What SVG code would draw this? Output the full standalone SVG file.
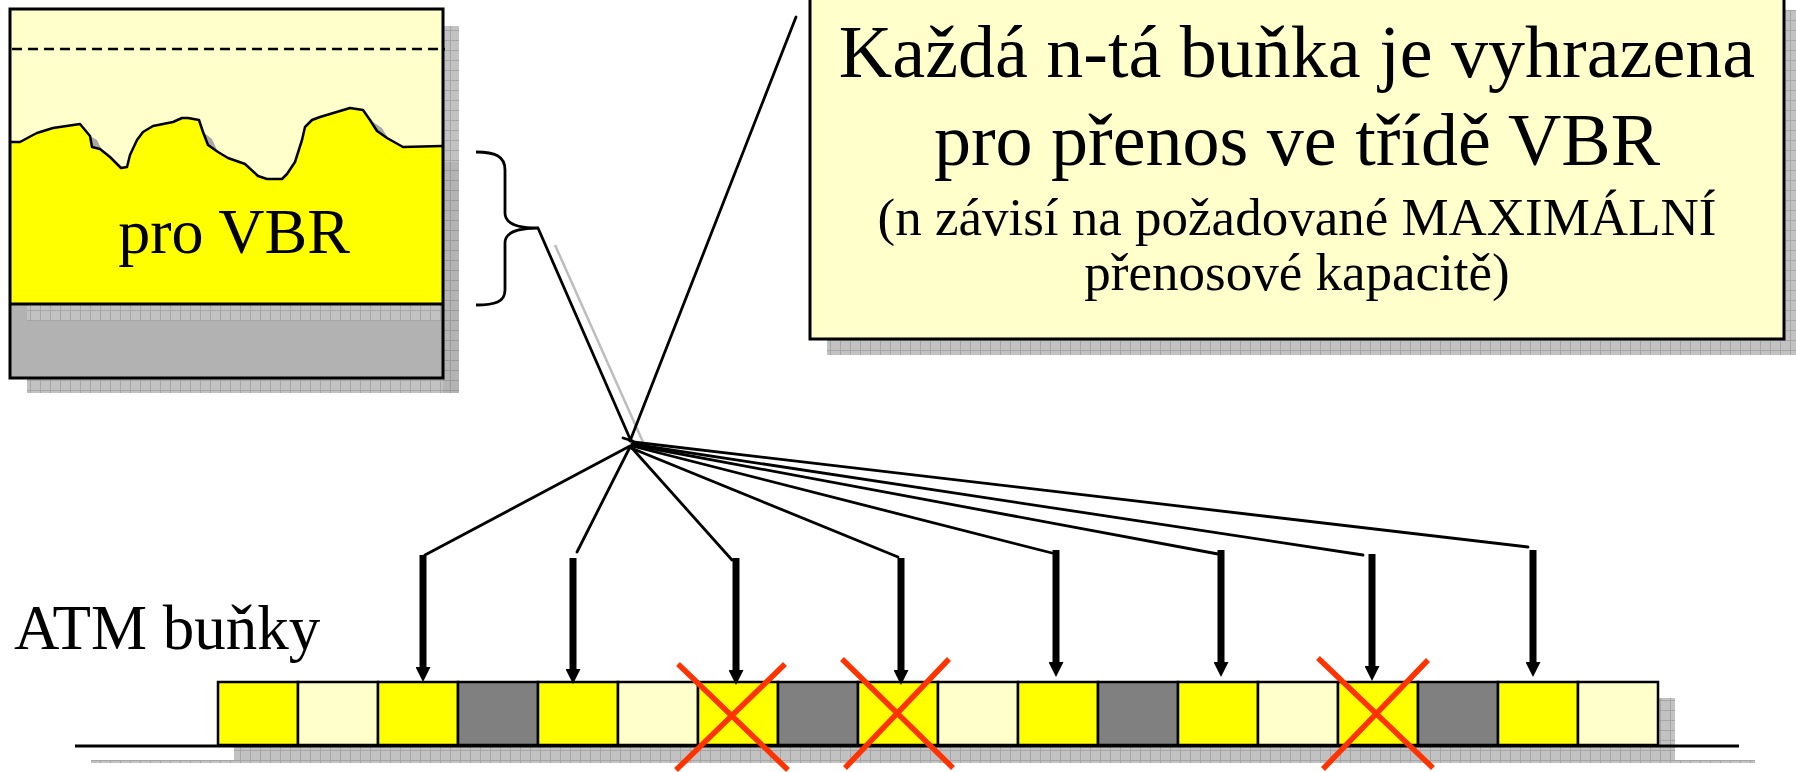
<svg xmlns="http://www.w3.org/2000/svg" width="1796" height="772" viewBox="0 0 1796 772">
<style>
.txt{font-family:"Liberation Serif","Times New Roman",serif;fill:#000}
.thin{fill:none;stroke:#000;stroke-width:2.8;stroke-linecap:round;stroke-linejoin:round}
.stem{fill:none;stroke:#000;stroke-width:7;marker-end:url(#ah)}
.cell{stroke:#000;stroke-width:2.5}
.y{fill:#FFFF00}.ly{fill:#FFFFCC}.g{fill:#808080}
.sh{fill:url(#shp)}
.x{stroke:#FF3300;stroke-width:5.5;stroke-linecap:butt}
</style>
<defs>
<pattern id="shp" width="10" height="10" patternUnits="userSpaceOnUse">
<rect width="10" height="10" fill="#c2c2c2"/>
<path d="M0,0.5H10M0.5,0V10" stroke="#a6a6a6" stroke-width="1"/>
</pattern>
<marker id="ah" viewBox="0 0 15 15" refX="0" refY="7.5" markerWidth="15" markerHeight="15" markerUnits="userSpaceOnUse" orient="auto">
<path d="M0,0L15,7.5L0,15Z" fill="#000"/>
</marker>
</defs>
<rect width="1796" height="772" fill="#fff"/>

<g id="vbr-box">
<rect class="sh" x="27" y="26" width="432" height="367"/>
<rect x="443" y="162" width="16" height="231" fill="#000" opacity="0.07"/>
<rect x="10" y="9" width="433" height="295" fill="#FFFFCC"/>
<rect x="10" y="304" width="433" height="74" fill="#B2B2B2"/>
<rect class="sh" x="27" y="305" width="416" height="16"/>
<line x1="12" y1="49" x2="445" y2="49" stroke="#000" stroke-width="2.5" stroke-dasharray="10,6"/>
<path d="M90,136L97,140L101,148L92,147Z M203,132L212,139L217,150L208,145Z M370,120L382,128L388,138L377,131Z" fill="#a8a8a8"/>
<path d="M10,142L20,142L33,135L37,133L53,128L80,124L90,136L92,147L100,149L110,157L121,168L127,167L130,155L137,140L143,132L153,126L173,122L182,118L188,118L199,120L203,132L208,145L218,152L228,158L245,164L258,176L267,179L282,179L287,174L295,162L302,140L305,127L312,120L320,117L350,108L363,110L370,120L377,131L387,138L403,147L442,146L442,304L10,304Z" fill="#FFFF00"/>
<path d="M10,142L20,142L33,135L37,133L53,128L80,124L90,136L92,147L100,149L110,157L121,168L127,167L130,155L137,140L143,132L153,126L173,122L182,118L188,118L199,120L203,132L208,145L218,152L228,158L245,164L258,176L267,179L282,179L287,174L295,162L302,140L305,127L312,120L320,117L350,108L363,110L370,120L377,131L387,138L403,147L442,146" fill="none" stroke="#000" stroke-width="2.5" stroke-linejoin="round"/>
<rect x="10" y="9" width="433" height="369" fill="none" stroke="#000" stroke-width="3"/>
<line x1="10" y1="304" x2="443" y2="304" stroke="#000" stroke-width="3"/>
<text class="txt" x="234" y="253" font-size="64" text-anchor="middle">pro VBR</text>
</g>

<g id="brace">
<path d="M476,152C495,152 505,156 505,170L505,213C505,222 515,228 538,228C515,228 505,234 505,243L505,290C505,302 495,305 476,305" fill="none" stroke="#000" stroke-width="2.8"/>
</g>

<g id="note-box">
<rect class="sh" x="827" y="10" width="975" height="345"/>
<rect x="810" y="-6" width="974" height="345" fill="#FFFFCC" stroke="#000" stroke-width="3"/>
<text class="txt" x="1297" y="77" font-size="74" text-anchor="middle">Každá n-tá buňka je vyhrazena</text>
<text class="txt" x="1297" y="165" font-size="74" text-anchor="middle">pro přenos ve třídě VBR</text>
<text class="txt" x="1297" y="235" font-size="53" text-anchor="middle">(n závisí na požadované MAXIMÁLNÍ</text>
<text class="txt" x="1297" y="290" font-size="53" text-anchor="middle">přenosové kapacitě)</text>
</g>

<g id="label-atm">
<text class="txt" x="14" y="649" font-size="63">ATM buňky</text>
</g>

<g id="cell-row">
<rect class="sh" x="91" y="760" width="1664" height="3"/>
<rect class="sh" x="234" y="698" width="1441" height="63"/>
<line x1="75" y1="746" x2="1739" y2="746" stroke="#000" stroke-width="3"/>
<g id="cell-1"><rect class="cell y" x="218" y="682" width="80" height="63"/></g>
<g id="cell-2"><rect class="cell ly" x="298" y="682" width="80" height="63"/></g>
<g id="cell-3"><rect class="cell y" x="378" y="682" width="80" height="63"/></g>
<g id="cell-4"><rect class="cell g" x="458" y="682" width="80" height="63"/></g>
<g id="cell-5"><rect class="cell y" x="538" y="682" width="80" height="63"/></g>
<g id="cell-6"><rect class="cell ly" x="618" y="682" width="80" height="63"/></g>
<g id="cell-7"><rect class="cell y" x="698" y="682" width="80" height="63"/></g>
<g id="cell-8"><rect class="cell g" x="778" y="682" width="80" height="63"/></g>
<g id="cell-9"><rect class="cell y" x="858" y="682" width="80" height="63"/></g>
<g id="cell-10"><rect class="cell ly" x="938" y="682" width="80" height="63"/></g>
<g id="cell-11"><rect class="cell y" x="1018" y="682" width="80" height="63"/></g>
<g id="cell-12"><rect class="cell g" x="1098" y="682" width="80" height="63"/></g>
<g id="cell-13"><rect class="cell y" x="1178" y="682" width="80" height="63"/></g>
<g id="cell-14"><rect class="cell ly" x="1258" y="682" width="80" height="63"/></g>
<g id="cell-15"><rect class="cell y" x="1338" y="682" width="80" height="63"/></g>
<g id="cell-16"><rect class="cell g" x="1418" y="682" width="80" height="63"/></g>
<g id="cell-17"><rect class="cell y" x="1498" y="682" width="80" height="63"/></g>
<g id="cell-18"><rect class="cell ly" x="1578" y="682" width="80" height="63"/></g>
</g>

<g id="connectors">
<line x1="555" y1="245" x2="643" y2="442" stroke="#bdbdbd" stroke-width="2.5"/>
<line class="thin" x1="538" y1="228" x2="631" y2="441"/>
<line class="thin" x1="630" y1="441" x2="796" y2="17"/>
<line class="thin" x1="623" y1="438" x2="633" y2="441"/>
<polyline class="thin" points="630,446 425,555"/>
<path class="stem" d="M423,555V667"/>
<polyline class="thin" points="630,447 577,552"/>
<path class="stem" d="M573,558V669"/>
<polyline class="thin" points="631,447 732,560"/>
<path class="stem" d="M736,558V670"/>
<polyline class="thin" points="631,448 898,557"/>
<path class="stem" d="M901,558V670"/>
<polyline class="thin" points="632,446 1052,553"/>
<path class="stem" d="M1056,550V662"/>
<polyline class="thin" points="632,445 1218,554"/>
<path class="stem" d="M1221,550V662"/>
<polyline class="thin" points="632,444 1363,555"/>
<path class="stem" d="M1372,554V666"/>
<polyline class="thin" points="633,442 1528,547"/>
<path class="stem" d="M1533,550V662"/>
</g>

<g id="crosses">
<path class="x" d="M678,664L788,770M785,664L676,770"/>
<path class="x" d="M842,659L953,768M949,659L845,768"/>
<path class="x" d="M1318,658L1433,768M1428,660L1323,769"/>
</g>
</svg>
